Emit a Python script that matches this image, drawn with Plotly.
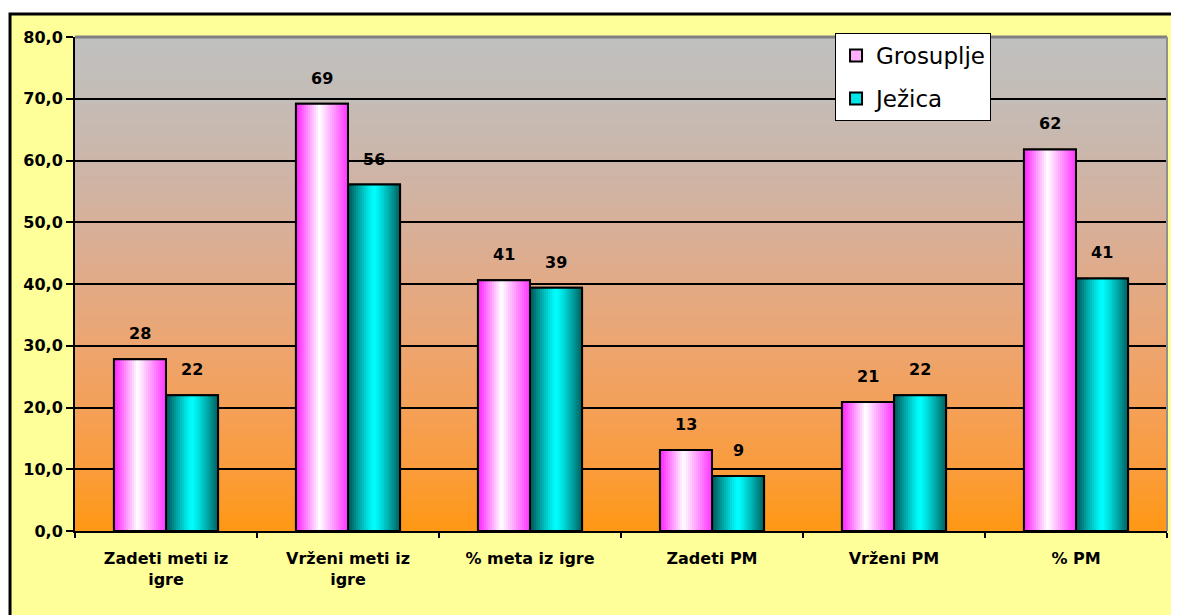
import plotly.graph_objects as go

categories = ["Zadeti meti iz<br>igre", "Vrženi meti iz<br>igre", "% meta iz igre",
              "Zadeti PM", "Vrženi PM", "% PM"]
grosuplje = [27.8, 69.2, 40.6, 13.1, 20.9, 61.8]
jezica = [22.0, 56.1, 39.4, 8.9, 22.0, 40.9]
y_ticks = [0, 10, 20, 30, 40, 50, 60, 70, 80]

BAR_W = 0.286
STRIPS = 26
FONT = "DejaVu Sans, Verdana, sans-serif"

# background colour stops, bottom -> top of plot area
bg_stops = [(255, 152, 20), (250, 156, 60), (244, 160, 88), (236, 165, 112), (226, 170, 134),
            (214, 176, 154), (204, 182, 170), (196, 188, 182), (192, 192, 192)]


def mix(c1, c2, g):
    return "rgb(%d,%d,%d)" % tuple(round(a + (b - a) * g) for a, b in zip(c1, c2))


def shade(t, edge_l, center, edge_r, peak, power):
    if t < peak:
        d = (peak - t) / peak
        edge = edge_l
    else:
        d = (t - peak) / (1 - peak)
        edge = edge_r
    return mix(center, edge, d ** power)


fig = go.Figure()


def add_series(name, values, offset, edge_l, center, edge_r, peak, power, legend_color):
    # solid base bar, carries the legend entry
    fig.add_trace(go.Bar(
        x=categories, y=values, name=name, width=BAR_W, offset=offset,
        marker=dict(color=legend_color, line=dict(color="black", width=2)),
        legendgroup=name, hoverinfo="skip",
    ))
    # horizontal gradient made of narrow strips
    sw = BAR_W / STRIPS
    for i in range(STRIPS):
        t = (i + 0.5) / STRIPS
        fig.add_trace(go.Bar(
            x=categories, y=values, width=sw * 1.05, offset=offset + i * sw,
            marker=dict(color=shade(t, edge_l, center, edge_r, peak, power), line=dict(width=0)),
            showlegend=False, hoverinfo="skip",
        ))
    # outline on top
    fig.add_trace(go.Bar(
        x=categories, y=values, width=BAR_W, offset=offset,
        marker=dict(color="rgba(0,0,0,0)", line=dict(color="black", width=2)),
        showlegend=False, hoverinfo="skip",
    ))
    for cat, v in zip(categories, values):
        fig.add_annotation(
            x=cat, y=v, xref="x", yref="y", text=f"<b>{v:.0f}</b>", showarrow=False,
            xshift=(offset + BAR_W / 2) * 182, yshift=14, yanchor="bottom",
            font=dict(family=FONT, size=16, color="black"),
        )


add_series("Grosuplje", grosuplje, -BAR_W, (255, 30, 255), (255, 255, 255), (255, 50, 255),
           0.45, 1.0, "#FFB0FF")
add_series("Ježica", jezica, 0.0, (0, 80, 80), (0, 255, 255), (0, 90, 90),
           0.5, 1.2, "#00E5E5")

shapes = []
# yellow chart frame
shapes.append(dict(type="rect", xref="paper", yref="paper", x0=-0.0595, x1=1.05,
                   y0=-0.3, y1=1.0466, fillcolor="#FFFF99",
                   line=dict(color="black", width=3), layer="below"))
# plot-area gradient: grey at top to orange at bottom
bands = 96
n = len(bg_stops) - 1
for i in range(bands):
    g = (i + 0.5) / bands * n
    k = min(int(g), n - 1)
    shapes.append(dict(type="rect", xref="x domain", yref="y domain",
                       x0=0, x1=1, y0=i / bands, y1=(i + 1) / bands + 0.002,
                       fillcolor=mix(bg_stops[k], bg_stops[k + 1], g - k),
                       line=dict(width=0), layer="below"))
# grey top / right edge of the plot area
shapes.append(dict(type="line", xref="x domain", yref="y domain", x0=0, x1=1, y0=1, y1=1,
                   line=dict(color="#808080", width=3), layer="above"))
shapes.append(dict(type="line", xref="x domain", yref="y domain", x0=1, x1=1, y0=0, y1=1,
                   line=dict(color="#909090", width=2), layer="above"))

fig.update_layout(
    width=1171, height=607,
    margin=dict(l=67, r=12, t=29, b=84, autoexpand=False),
    paper_bgcolor="white", plot_bgcolor="#D0D0D0",
    barmode="overlay", separators=",.",
    shapes=shapes,
    font=dict(family=FONT, color="black"),
    legend=dict(
        x=0.696, y=1.008, xanchor="left", yanchor="top",
        bgcolor="white", bordercolor="black", borderwidth=1,
        font=dict(family=FONT, size=23, color="black"),
        tracegroupgap=10, itemwidth=30,
    ),
    xaxis=dict(
        type="category", showline=True, linecolor="black", linewidth=2,
        ticks="outside", tickson="boundaries", ticklen=5, tickwidth=2, tickcolor="black",
        tickfont=dict(family=FONT, size=16, color="black", weight="bold"),
        ticklabelstandoff=12,
        showgrid=False, fixedrange=True, automargin=False,
    ),
    yaxis=dict(
        range=[0, 80], tickvals=y_ticks, tickformat=".1f",
        showline=True, linecolor="black", linewidth=2,
        ticks="outside", ticklen=7, tickwidth=2, tickcolor="black",
        showgrid=True, gridcolor="black", gridwidth=2,
        tickfont=dict(family=FONT, size=16, color="black", weight="bold"),
        zeroline=False, automargin=False,
    ),
)

fig.write_html("out.html")
